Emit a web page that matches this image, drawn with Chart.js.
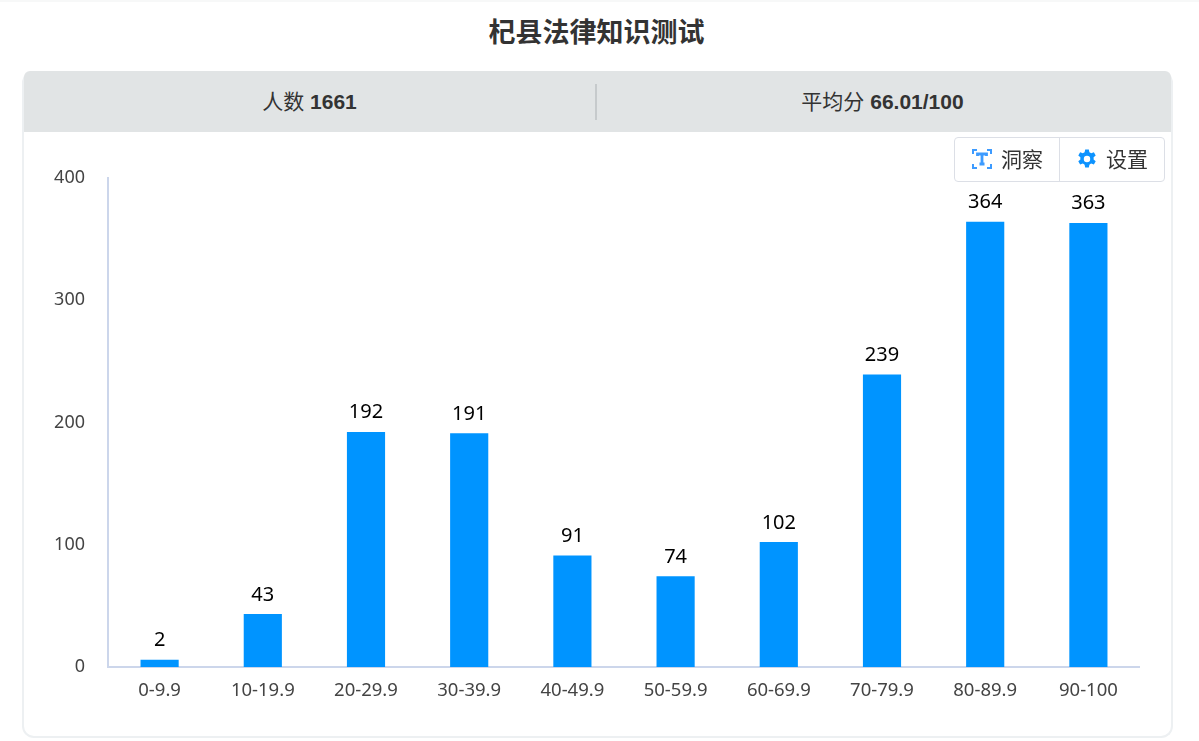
<!DOCTYPE html>
<html>
<head>
<meta charset="utf-8">
<title>杞县法律知识测试</title>
<script src="https://cdn.jsdelivr.net/npm/chart.js@4"></script>
<style>
  html, body { margin: 0; padding: 0; background: #fff; }
  body { width: 1199px; height: 741px; position: relative; overflow: hidden; font-family: "Noto Sans", "Noto Sans CJK SC", sans-serif; color: #333; }
  .topline { position: absolute; left: 0; top: 0; width: 100%; height: 2px; background: #f7f8f8; }
  .title { position: absolute; left: 0; width: 1193px; top: 13px; text-align: center; font: bold 27px/40px "Liberation Sans", "Noto Sans CJK SC", sans-serif; color: #333; }
  .card { position: absolute; left: 22px; top: 71px; width: 1147px; height: 665px; border: 2px solid #edf0f2; border-top: 0; border-radius: 12px; background: #fff; box-sizing: content-box; }
  .stats { position: absolute; left: 24px; top: 71px; width: 1147px; height: 61px; background: #e1e4e5; border-radius: 6px 6px 0 0; }
  .stats div { position: absolute; top: 0; width: 571px; text-align: center; font: 21px/62px "Liberation Sans", "Noto Sans CJK SC", sans-serif; color: #333; }
  .stats b { font-weight: bold; }
  .stats .sep { left: 571px; top: 13px; width: 2px; height: 36px; background: #c6cacc; }
  .tools { position: absolute; left: 954px; top: 137px; width: 209px; height: 43px; border: 1px solid #dcdfe6; border-radius: 4px; background: #fff; z-index: 2; }
  .tools span { position: absolute; top: 0; font: 21px/41px "Noto Sans CJK SC", sans-serif; color: #333; }
  .tools svg { position: absolute; top: 10px; }
  .tools .sep { position: absolute; left: 104px; top: 0; width: 1px; height: 43px; background: #dcdfe6; }
  .plot { position: absolute; left: 24px; top: 140px; width: 1116px; height: 591px; }
</style>
</head>
<body>
<div class="topline"></div>
<div class="title">杞县法律知识测试</div>
<div class="card"></div>
<div class="stats">
  <div style="left:0">人数 <b>1661</b></div>
  <div class="sep"></div>
  <div style="left:573px">平均分 <b>66.01/100</b></div>
</div>
<div class="tools">
  <svg style="left:16px" width="22" height="22" viewBox="0 0 22 22" fill="none" stroke="#3d9bff" stroke-width="2">
    <path d="M2 6V2h4M16 2h4v4M20 16v4h-4M6 20H2v-4"/>
    <path d="M6.5 8V6h9V8M11 6v10M8.5 16h5" stroke-width="2.8"/>
  </svg>
  <span style="left:46px">洞察</span>
  <div class="sep"></div>
  <svg style="left:121px" width="22" height="22" viewBox="0 0 24 24" fill="#0d93ff">
    <path fill-rule="evenodd" d="M10 1.5h4l.6 3a8 8 0 0 1 2 1.2l2.9-1 2 3.5-2.3 2a8 8 0 0 1 0 2.3l2.3 2-2 3.5-2.9-1a8 8 0 0 1-2 1.2l-.6 3h-4l-.6-3a8 8 0 0 1-2-1.2l-2.9 1-2-3.5 2.3-2a8 8 0 0 1 0-2.3l-2.3-2 2-3.5 2.9 1a8 8 0 0 1 2-1.2zM12 8.5a3.5 3.5 0 1 0 0 7 3.5 3.5 0 0 0 0-7z"/>
  </svg>
  <span style="left:151px">设置</span>
</div>
<div class="plot"><canvas id="scoreChart"></canvas></div>

<script>
// Chart data
const categories = ['0-9.9', '10-19.9', '20-29.9', '30-39.9', '40-49.9', '50-59.9', '60-69.9', '70-79.9', '80-89.9', '90-100'];
const counts = [2, 43, 192, 191, 91, 74, 102, 239, 364, 363];
const yTicks = [0, 100, 200, 300, 400];

// Draws the number above each bar
const barValueLabels = {
  id: 'barValueLabels',
  afterDatasetsDraw(chart) {
    const ctx = chart.ctx;
    const bars = chart.getDatasetMeta(0).data;
    ctx.save();
    ctx.fillStyle = '#000';
    ctx.font = '20px "Noto Sans", sans-serif';
    ctx.textAlign = 'center';
    ctx.textBaseline = 'middle';
    bars.forEach((bar, i) => {
      ctx.fillText(counts[i], bar.x, bar.y - 19.5);
    });
    ctx.restore();
  }
};

const ctx = document.getElementById('scoreChart').getContext('2d');
new Chart(ctx, {
  type: 'bar',
  data: {
    labels: categories,
    datasets: [{
      data: counts,
      backgroundColor: '#0094ff',
      barThickness: 37.5,
      minBarLength: 7
    }]
  },
  options: {
    responsive: true,
    maintainAspectRatio: false,
    animation: false,
    layout: { padding: { top: 38 } },
    plugins: {
      legend: { display: false },
      tooltip: { enabled: false }
    },
    scales: {
      x: {
        grid: { display: false },
        border: { color: '#ccd6eb', width: 2 },
        ticks: { color: '#444', font: { size: 18.5, family: '"Noto Sans", sans-serif' }, padding: 5, maxRotation: 0, autoSkip: false },
        afterFit(scale) { scale.height = 64; }
      },
      y: {
        min: 0,
        max: 400,
        afterBuildTicks(scale) { scale.ticks = yTicks.map(v => ({ value: v })); },
        grid: { display: false },
        border: { color: '#ccd6eb', width: 2 },
        ticks: { color: '#444', font: { size: 18, family: '"Noto Sans", sans-serif' }, padding: 15 },
        afterFit(scale) { scale.width = 84; }
      }
    }
  },
  plugins: [barValueLabels]
});
</script>
</body>
</html>
